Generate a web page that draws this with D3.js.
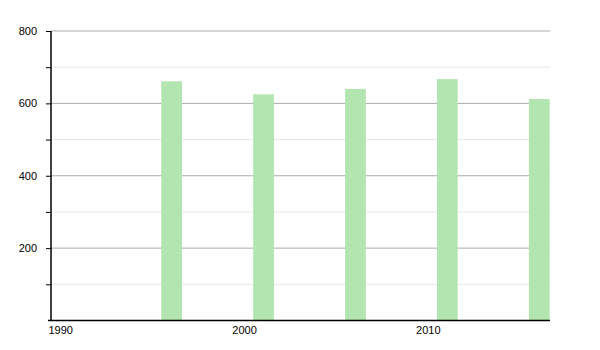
<!DOCTYPE html>
<html>
<head>
<meta charset="utf-8">
<script src="https://cdn.jsdelivr.net/npm/d3@7"></script>
<style>
  body { margin: 0; background: #fff; }
  svg text { font-family: "Liberation Sans", Arial, sans-serif; font-size: 11px; fill: #000; }
</style>
</head>
<body>
<div id="chart"></div>
<script>
// data
const years = [1996, 2001, 2006, 2011, 2016];
const population = [661, 625, 640, 667, 612];
const yMajorTicks = [200, 400, 600, 800];
const yMinorTicks = [100, 300, 500, 700];
const xTicks = [1990, 2000, 2010];

const width = 600;
const height = 350;
const plotLeft = 51, plotRight = 550, plotTop = 31, plotBottom = 320.5;

const x = d3.scaleLinear().domain([1990, 2017.15]).range([plotLeft, plotRight]);
const y = d3.scaleLinear().domain([0, 800]).range([plotBottom, plotTop]);
const barWidth = x(1991.13) - x(1990);

const svg = d3.select('#chart')
    .append('svg')
    .attr('width', width)
    .attr('height', height);

// minor grid lines
svg.selectAll('.minor-grid')
    .data(yMinorTicks)
    .enter()
    .append('line')
    .attr('x1', plotLeft).attr('x2', plotRight)
    .attr('y1', d => y(d)).attr('y2', d => y(d))
    .style('stroke', '#e6e6e6')
    .style('stroke-width', 1);

// major grid lines
svg.selectAll('.major-grid')
    .data(yMajorTicks)
    .enter()
    .append('line')
    .attr('x1', plotLeft).attr('x2', plotRight)
    .attr('y1', d => y(d)).attr('y2', d => y(d))
    .style('stroke', '#ababab')
    .style('stroke-width', 1);

// bars
svg.selectAll('.bar')
    .data(years)
    .enter()
    .append('rect')
    .attr('class', 'bar')
    .attr('x', d => x(d))
    .attr('width', barWidth)
    .attr('y', (d, i) => y(population[i]))
    .attr('height', (d, i) => y(0) - y(population[i]))
    .style('fill', '#b3e5b0');

// y axis (ticks on the left, labels every 200)
const yAxis = d3.axisLeft(y)
    .tickValues(yMajorTicks.concat(yMinorTicks))
    .tickSize(5)
    .tickPadding(9)
    .tickFormat(d => yMajorTicks.includes(d) ? d : '');

const yG = svg.append('g')
    .attr('transform', `translate(${plotLeft},0)`)
    .call(yAxis);
yG.select('.domain').attr('d', `M0,${plotTop}V${plotBottom}`).style('stroke', '#000').style('stroke-width', 1.5);
yG.selectAll('.tick line').style('stroke', '#000');
yG.selectAll('text').style('font-size', '11px');

// x axis (no tick marks, labels start at the tick)
const xAxis = d3.axisBottom(x)
    .tickValues(xTicks)
    .tickSize(0)
    .tickPadding(6)
    .tickFormat(d3.format('d'));

const xG = svg.append('g')
    .attr('transform', `translate(0,${plotBottom})`)
    .call(xAxis);
xG.select('.domain').attr('d', `M${plotLeft - 3},0H${plotRight}`).style('stroke', '#000').style('stroke-width', 1.5);
xG.selectAll('text').attr('text-anchor', 'start').attr('dx', -3).style('font-size', '11px');
</script>
</body>
</html>
